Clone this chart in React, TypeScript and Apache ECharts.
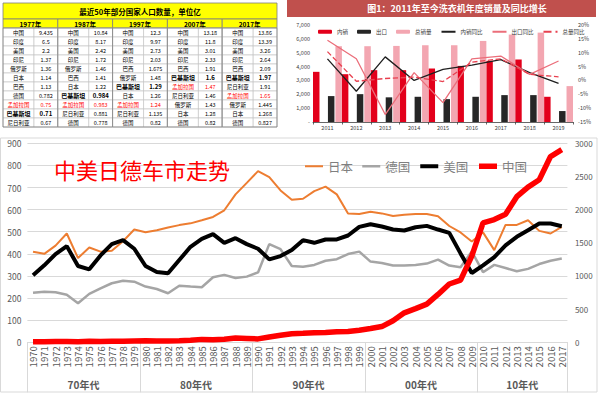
import React, { useEffect, useRef } from 'react';
import * as echarts from 'echarts';

// ---------- main chart data ----------
const years = ['1970','1971','1972','1973','1974','1975','1976','1977','1978','1979',
  '1980','1981','1982','1983','1984','1985','1986','1987','1988','1989',
  '1990','1991','1992','1993','1994','1995','1996','1997','1998','1999',
  '2000','2001','2002','2003','2004','2005','2006','2007','2008','2009',
  '2010','2011','2012','2013','2014','2015','2016','2017'];
const decades = ['70年代', '80年代', '90年代', '00年代', '10年代'];
const japan = [410,400,437,492,381,429,410,414,457,510,
  498,507,519,530,538,552,567,597,669,721,
  774,747,687,645,649,684,704,669,583,580,
  590,583,571,577,580,580,570,526,497,456,
  497,417,531,531,552,504,492,522];
const germany = [224,229,226,215,177,219,244,267,278,274,
  252,241,222,256,252,249,294,305,291,297,
  316,444,421,345,342,350,369,376,399,410,
  365,359,347,347,350,356,374,347,339,411,
  317,350,336,321,332,354,369,379];
const usa = [1010,1160,1330,1450,1150,1100,1310,1480,1540,1410,
  1150,1060,1040,1240,1440,1560,1630,1500,1570,1480,
  1410,1250,1300,1390,1540,1500,1550,1550,1610,1740,
  1780,1745,1700,1685,1735,1755,1700,1650,1340,1045,
  1160,1285,1460,1590,1690,1790,1790,1750];
const china = [9,10,11,12,10,14,13,15,15,19,
  22,18,20,24,32,44,37,47,65,59,
  51,81,106,130,135,145,147,158,163,183,
  209,237,325,444,507,576,722,879,938,1300,
  1800,1850,1930,2195,2340,2450,2800,2905];

// ---------- washing machine chart data ----------
const wmYears = ['2011','2012','2013','2014','2015','2016','2017','2018','2019'];
const wmDomestic = [3620,3450,3740,3740,3860,4050,4410,4510,1820];
const wmExport = [1870,2010,1780,1820,1650,1820,1940,1940,790];
const wmTotal = [5470,5470,5490,5540,5540,5850,6310,6450,2590];
const wmDomesticYoY = [7.8,-3.9,8.5,0.0,4.0,5.5,7.5,2.8,-1.1];
const wmExportYoY = [14.5,7.8,-12.3,2.8,-8.0,7.8,8.8,2.2,7.0];
const wmTotalYoY = [10.4,-0.3,0.7,1.2,-0.4,6.6,7.8,2.2,1.3];

// ---------- population table data ----------
const tableTitle = '最近50年部分国家人口数量，单位亿';
const popYears = ['1977年', '1987年', '1997年', '2007年', '2017年'];
const pop1977Names = ['中国','印度','美国','印尼','俄罗斯','日本','巴西','德国','孟加拉国','巴基斯坦','尼日利亚'];
const pop1977Values = [9.435,6.5,2.2,1.37,1.36,1.14,1.13,0.782,0.75,0.71,0.67];
const pop1987Names = ['中国','印度','美国','印尼','俄罗斯','巴西','日本','巴基斯坦','孟加拉国','尼日利亚','德国'];
const pop1987Values = [10.84,8.17,2.42,1.72,1.46,1.41,1.22,0.984,0.983,0.881,0.778];
const pop1997Names = ['中国','印度','美国','印尼','巴西','俄罗斯','巴基斯坦','日本','孟加拉国','尼日利亚','德国'];
const pop1997Values = [12.3,9.97,2.73,2.03,1.675,1.48,1.29,1.26,1.24,1.135,0.82];
const pop2007Names = ['中国','印度','美国','印尼','巴西','巴基斯坦','孟加拉国','尼日利亚','俄罗斯','日本','德国'];
const pop2007Values = [13.18,11.8,3.01,2.33,1.91,1.6,1.47,1.46,1.43,1.28,0.82];
const pop2017Names = ['中国','印度','美国','印尼','巴西','巴基斯坦','尼日利亚','孟加拉国','俄罗斯','日本','德国'];
const pop2017Values = [13.86,13.39,3.26,2.64,2.09,1.97,1.91,1.65,1.445,1.268,0.827];
const redCountry = '孟加拉国';
const boldCountry = '巴基斯坦';

const FONT = '"Noto Sans CJK SC", "Noto Sans", sans-serif';

function buildTable(): any[] {
  const names = [pop1977Names, pop1987Names, pop1997Names, pop2007Names, pop2017Names];
  const vals = [pop1977Values, pop1987Values, pop1997Values, pop2007Values, pop2017Values];
  const x0 = 3, y0 = 3, w = 274, titleH = 16, headH = 9, rowH = 9, nameW = 31;
  const gw = w / 5;
  const els: any[] = [];
  els.push({ type: 'rect', shape: { x: x0, y: y0, width: w, height: titleH }, style: { fill: '#FFFF00', stroke: '#7f7f7f', lineWidth: 0.8 } });
  els.push({ type: 'text', x: x0 + w / 2, y: y0 + titleH / 2, style: { text: tableTitle, fill: '#000', fontSize: 7.5, fontWeight: 'bold', fontFamily: FONT, align: 'center', verticalAlign: 'middle' } });
  for (let g = 0; g < 5; g++) {
    const gx = x0 + g * gw;
    const hy = y0 + titleH;
    els.push({ type: 'rect', shape: { x: gx, y: hy, width: gw, height: headH }, style: { fill: '#FFFF00', stroke: '#7f7f7f', lineWidth: 0.8 } });
    els.push({ type: 'text', x: gx + gw / 2, y: hy + headH / 2, style: { text: popYears[g], fill: '#000', fontSize: 6.5, fontWeight: 'bold', fontFamily: FONT, align: 'center', verticalAlign: 'middle' } });
    for (let r = 0; r < names[g].length; r++) {
      const ry = hy + headH + r * rowH;
      const nm = names[g][r];
      const isRed = nm === redCountry;
      const isBold = nm === boldCountry;
      const color = isRed ? '#FF0000' : '#000';
      els.push({ type: 'rect', shape: { x: gx, y: ry, width: nameW, height: rowH }, style: { fill: '#fff', stroke: '#BFBFBF', lineWidth: 0.6 } });
      els.push({ type: 'rect', shape: { x: gx + nameW, y: ry, width: gw - nameW, height: rowH }, style: { fill: '#fff', stroke: '#BFBFBF', lineWidth: 0.6 } });
      els.push({ type: 'text', x: gx + nameW / 2, y: ry + rowH / 2, style: { text: nm, fill: color, fontSize: isBold ? 6 : 5.5, fontWeight: isBold ? 'bold' : 'normal', fontFamily: FONT, align: 'center', verticalAlign: 'middle' } });
      els.push({ type: 'text', x: gx + nameW + (gw - nameW) / 2, y: ry + rowH / 2, style: { text: String(vals[g][r]), fill: color, fontSize: isBold ? 6 : 5.5, fontWeight: isBold ? 'bold' : 'normal', fontFamily: FONT, align: 'center', verticalAlign: 'middle' } });
    }
    els.push({ type: 'rect', shape: { x: gx, y: y0 + titleH + headH, width: gw, height: rowH * names[g].length }, style: { fill: 'none', stroke: '#7f7f7f', lineWidth: 0.8 } });
  }
  return els;
}

const hideSym = { opacity: 0 };

export default function App() {
  const ref = useRef<HTMLDivElement>(null);
  useEffect(() => {
    if (!ref.current) return;
    const chart = echarts.init(ref.current, null, { renderer: 'svg' });
    const decadeLabelIdx = [4, 14, 24, 34, 43];
    const option: any = {
      animation: false,
      backgroundColor: '#ffffff',
      textStyle: { fontFamily: FONT },
      graphic: [
        { type: 'rect', z: -10, shape: { x: 0.5, y: 138, width: 596.5, height: 254 }, style: { fill: 'none', stroke: '#D9D9D9', lineWidth: 1 } },
        { type: 'rect', shape: { x: 287, y: 0, width: 309, height: 17 }, style: { fill: '#C0504D' } },
        { type: 'text', x: 457, y: 8.5, style: { text: '图1：2011年至今洗衣机年度销量及同比增长', fill: '#fff', fontSize: 9, fontWeight: 'bold', fontFamily: FONT, align: 'center', verticalAlign: 'middle' } },
        { type: 'text', x: 54, y: 169, z: 10, style: { text: '中美日德车市走势', fill: '#FF0000', fontSize: 22, fontFamily: FONT, align: 'left', verticalAlign: 'middle' } },
        ...buildTable(),
      ],
      legend: [
        {
          data: [
            { name: '日本', itemStyle: hideSym, lineStyle: { width: 2 } },
            { name: '德国', itemStyle: hideSym, lineStyle: { width: 2.5 } },
            { name: '美国', itemStyle: hideSym, lineStyle: { width: 4 } },
            { name: '中国', itemStyle: hideSym, lineStyle: { width: 5.5 } },
          ],
          left: 299, top: 155, itemWidth: 18, itemHeight: 14, itemGap: 8,
          textStyle: { fontSize: 12.5, color: '#7f7f7f', fontFamily: FONT },
        },
        {
          data: [
            { name: '内销' },
            { name: '出口' },
            { name: '总销量' },
            { name: '内销同比', itemStyle: hideSym },
            { name: '出口同比', itemStyle: hideSym },
            { name: '总量同比', itemStyle: hideSym },
          ],
          left: 313, top: 24, itemWidth: 14, itemHeight: 4, itemGap: 9,
          textStyle: { fontSize: 5.5, color: '#404040', fontFamily: FONT },
        },
      ],
      grid: [
        { left: 27.4, right: 32.6, top: 143.3, bottom: 51.7 },
        { left: 313, right: 27, top: 25, bottom: 272 },
      ],
      xAxis: [
        {
          gridIndex: 0, type: 'category', data: years, position: 'bottom', boundaryGap: true,
          axisLine: { show: true, lineStyle: { color: '#D9D9D9' } },
          axisTick: { show: false },
          axisLabel: { rotate: 90, interval: 0, fontSize: 9.5, color: '#595959', margin: 4 },
        },
        {
          gridIndex: 0, type: 'category', data: years, position: 'bottom', boundaryGap: true,
          axisLine: { show: false },
          axisTick: { show: true, length: 50, interval: (i: number) => i % 10 === 0, lineStyle: { color: '#D9D9D9' } },
          axisLabel: {
            interval: (i: number) => decadeLabelIdx.indexOf(i) >= 0,
            formatter: (_v: string, i: number) => decades[decadeLabelIdx.indexOf(i)] || '',
            margin: 37, fontSize: 10, fontWeight: 'bold', color: '#595959', padding: [0, 0, 0, 11],
          },
        },
        {
          gridIndex: 1, type: 'category', data: wmYears, boundaryGap: true,
          axisLine: { lineStyle: { color: '#404040', width: 0.8 } },
          axisTick: { show: true, length: 2.5, lineStyle: { color: '#404040', width: 0.8 } },
          axisLabel: { fontSize: 5.5, color: '#404040', margin: 3 },
        },
      ],
      yAxis: [
        {
          gridIndex: 0, type: 'value', min: 0, max: 900, interval: 100,
          axisLine: { show: false }, axisTick: { show: false },
          axisLabel: { fontSize: 8.5, color: '#595959', margin: 6 },
          splitLine: { lineStyle: { color: '#D9D9D9' } },
        },
        {
          gridIndex: 0, type: 'value', position: 'right', min: 0, max: 3000, interval: 500,
          axisLine: { show: false }, axisTick: { show: false },
          axisLabel: { fontSize: 8, color: '#595959', margin: 7.5, formatter: (v: number) => String(v) },
          splitLine: { show: false },
        },
        {
          gridIndex: 1, type: 'value', min: 0, max: 7000, interval: 1000,
          axisLine: { show: false }, axisTick: { show: false },
          axisLabel: { fontSize: 5.5, color: '#404040', margin: 3, formatter: (v: number) => (v === 0 ? '-' : v.toLocaleString('en-US')) },
          splitLine: { show: false },
        },
        {
          gridIndex: 1, type: 'value', position: 'right', min: -15, max: 20, interval: 5,
          axisLine: { show: false }, axisTick: { show: false },
          axisLabel: { fontSize: 5.5, color: '#404040', margin: 5, formatter: '{value}%' },
          splitLine: { show: false },
        },
      ],
      series: [
        { name: '日本', type: 'line', xAxisIndex: 0, yAxisIndex: 0, data: japan, symbol: 'none', lineStyle: { width: 2, color: '#ED7D31' }, itemStyle: { color: '#ED7D31' } },
        { name: '德国', type: 'line', xAxisIndex: 0, yAxisIndex: 0, data: germany, symbol: 'none', lineStyle: { width: 2.5, color: '#A5A5A5' }, itemStyle: { color: '#A5A5A5' } },
        { name: '美国', type: 'line', xAxisIndex: 0, yAxisIndex: 1, data: usa, symbol: 'none', lineStyle: { width: 4, color: '#000000' }, itemStyle: { color: '#000000' } },
        { name: '中国', type: 'line', xAxisIndex: 0, yAxisIndex: 1, data: china, symbol: 'none', lineStyle: { width: 5.5, color: '#FF0000' }, itemStyle: { color: '#FF0000' } },

        { name: '内销', type: 'bar', xAxisIndex: 2, yAxisIndex: 2, data: wmDomestic, barWidth: 6.5, barGap: '15%', itemStyle: { color: '#E3001B' } },
        { name: '__gap', type: 'bar', xAxisIndex: 2, yAxisIndex: 2, data: [], barWidth: 6.5, barGap: '15%' },
        { name: '出口', type: 'bar', xAxisIndex: 2, yAxisIndex: 2, data: wmExport, barWidth: 6.5, barGap: '15%', itemStyle: { color: '#262626' } },
        { name: '总销量', type: 'bar', xAxisIndex: 2, yAxisIndex: 2, data: wmTotal, barWidth: 6.5, barGap: '15%', itemStyle: { color: '#F3A6B1' } },
        { name: '内销同比', type: 'line', xAxisIndex: 2, yAxisIndex: 3, data: wmDomesticYoY, symbol: 'none', lineStyle: { width: 1.3, color: '#1F1F1F' }, itemStyle: { color: '#1F1F1F' } },
        { name: '出口同比', type: 'line', xAxisIndex: 2, yAxisIndex: 3, data: wmExportYoY, symbol: 'none', lineStyle: { width: 1.3, color: '#EB6E7A' }, itemStyle: { color: '#EB6E7A' } },
        { name: '总量同比', type: 'line', xAxisIndex: 2, yAxisIndex: 3, data: wmTotalYoY, symbol: 'none', lineStyle: { width: 1.3, color: '#E8404F', type: 'dashed' }, itemStyle: { color: '#E8404F' } },
      ],
    };
    chart.setOption(option);
    return () => chart.dispose();
  }, []);
  return <div ref={ref} style={{ position: 'absolute', left: 0, top: 0, width: 600, height: 394 }} />;
}
